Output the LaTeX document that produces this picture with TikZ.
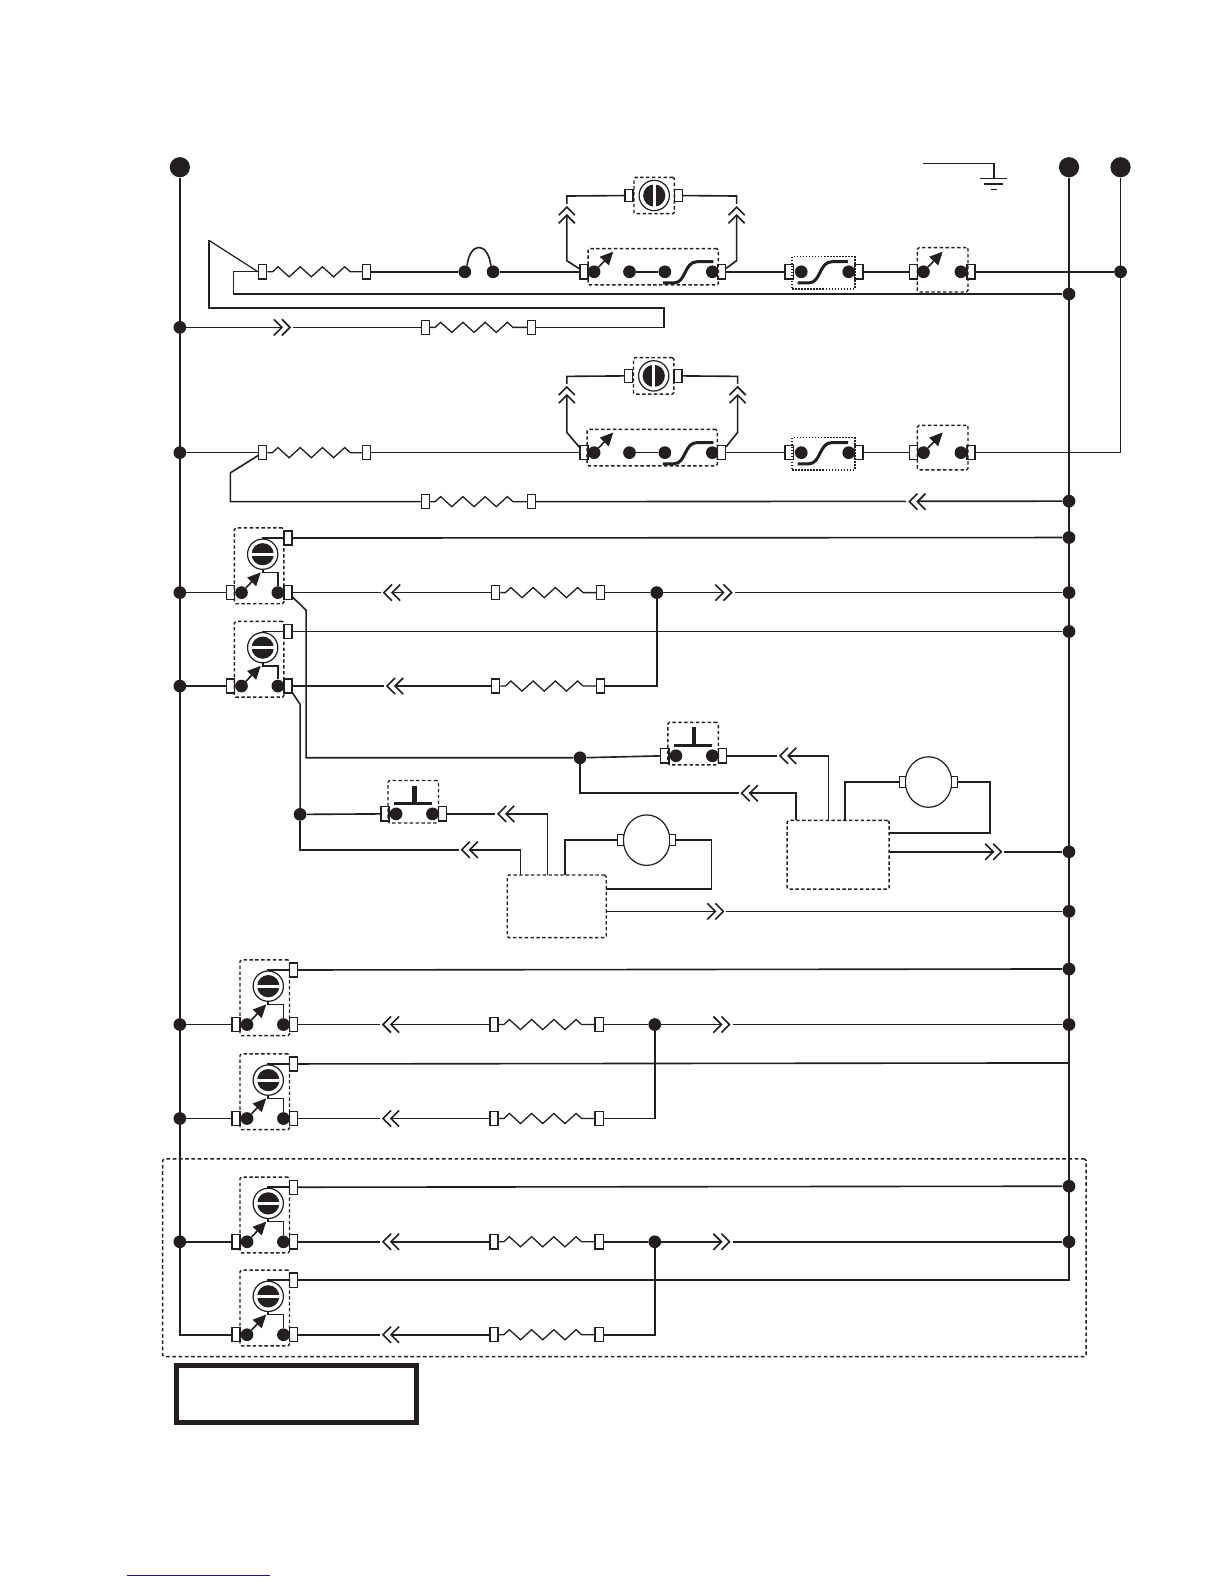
\documentclass[tikz,border=0pt]{standalone}
\usepackage{tikz}
\usetikzlibrary{arrows.meta,decorations.pathmorphing,fit,shapes.geometric}

\definecolor{ink}{HTML}{231F20}
\definecolor{rulenavy}{HTML}{1A1A8C}

\tikzset{
    wire/.style={draw=ink,line width=1.6pt},
    thinwire/.style={draw=ink,line width=1.2pt},
    coil/.style={draw=ink,line width=1.3pt,decorate,decoration={zigzag,segment length=22pt,amplitude=5pt,pre length=5pt,post length=5pt}},
    dot/.style={circle,fill=ink,inner sep=0pt,minimum size=12.6pt},
    bigdot/.style={circle,fill=ink,inner sep=0pt,minimum size=20pt},
    term/.style={rectangle,draw=ink,fill=white,line width=1.3pt,inner sep=0pt,minimum width=8pt,minimum height=14pt},
    smallterm/.style={term,line width=1.1pt,minimum width=6pt,minimum height=10.5pt},
    knob/.style={circle,draw=ink,line width=1.2pt,inner sep=0pt,minimum size=30pt},
    motor/.style={ellipse,draw=ink,line width=1.2pt,inner sep=0pt,minimum width=46pt,minimum height=50pt},
    dbox/.style={rectangle,draw=ink,line width=1.4pt,dash pattern=on 3.4pt off 2.4pt,rounded corners=1.5pt,inner sep=0pt},
    ddot/.style={rectangle,draw=ink,line width=1.4pt,dash pattern=on 1.5pt off 1.5pt,inner sep=0pt},
    pics/chevr/.style={code={
        \fill[white] (-3.5,-2) rectangle (7,2);
        \draw[wire] (-12,-8) -- (-4,0) -- (-12,8);
        \draw[wire] (-4,-8) -- (4,0) -- (-4,8);
    }},
    pics/knobface/.style={code={
        \fill[ink] (0,0) circle (11);
        \fill[white] (-12,-1.5) rectangle (12,1.5);
    }},
    pics/bimetal/.style={code={
        \draw[draw=ink,line width=3pt] (-25,11) -- (-14,11) .. controls (-2,11) and (-4,-10) .. (9,-10) -- (25,-10);
    }},
}

% arrow of an open contact
\newcommand{\tripsw}[1]{
    \coordinate (#1tip) at ([shift={(19,-20)}]#1);
    \draw[wire,-{Triangle[length=13pt,width=12pt]}] (#1) -- (#1tip);
}
% switch with pilot knob: name, x of left terminal, y of row
\newcommand{\knobunit}[3]{
    \node[dot] (#1dl) at (#2+11,#3) {};
    \node[dot] (#1dr) at (#2+47,#3) {};
    \node[term] (#1tl) at (#2,#3) {};
    \node[term] (#1tr) at (#2+57,#3) {};
    \node[term] (#1tt) at (#2+57,#3-54) {};
    \node[knob] (#1k) at (#2+32,#3-38) {};
    \node[dbox,fit={(#2+4,#3-64) (#2+53,#3+11)}] (#1b) {};
    \coordinate (#1j) at (#2+32,#3-20);
    \pic at (#1k) {knobface};
    \draw[wire] (#1tt) -| (#1k.north);
    \draw[wire] (#1k.south) -- (#1j) -| (#1dr.north);
    \tripsw{#1dl}
}
% fan in its box: name, x, y of centre
\newcommand{\fanunit}[3]{
    \node[knob] (#1k) at (#2,#3) {};
    \node[term,minimum height=12.5pt] (#1tl) at (#2-25,#3) {};
    \node[term,minimum height=12.5pt] (#1tr) at (#2+24,#3) {};
    \node[dbox,fit={(#2-20,#3-18) (#2+20,#3+18)}] (#1b) {};
    \pic[rotate=90] at (#1k) {knobface};
}
% push button: name, x of left terminal, y of row
\newcommand{\pushunit}[3]{
    \node[dot] (#1dl) at (#2+11,#3) {};
    \node[dot] (#1dr) at (#2+47,#3) {};
    \node[term] (#1tl) at (#2,#3) {};
    \node[term] (#1tr) at (#2+57,#3) {};
    \node[dbox,fit={(#2+3,#3-33) (#2+53,#3+9)}] (#1b) {};
    \coordinate (#1ba) at (#2+9,#3-10);
    \coordinate (#1bb) at (#2+47,#3-10);
    \coordinate (#1sa) at (#2+29,#3-28);
    \coordinate (#1sb) at (#2+29,#3-10);
    \draw[draw=ink,line width=2.8pt] (#1ba) -- (#1bb);
    \draw[draw=ink,line width=4.6pt] (#1sa) -- (#1sb);
}
% motor: name, x, y of centre
\newcommand{\motorunit}[3]{
    \node[motor] (#1) at (#2,#3) {};
    \node[smallterm] (#1tl) at (#2-25.5,#3) {};
    \node[smallterm] (#1tr) at (#2+25.5,#3) {};
}
% limit, fuse and thermostat of one element row
\newcommand{\limitset}[4]{
    \node[dot] (#1da) at (588,#2) {};
    \node[dot] (#1db) at (623,#2) {};
    \node[dot] (#1dc) at (658,#2) {};
    \node[dot] (#1dd) at (705,#2) {};
    \node[term] (#1ta) at (578,#2) {};
    \node[term] (#1tb) at (714,#2) {};
    \node[dbox,fit={(#3,#2-23) (#3+129,#2+13)}] (#1ba) {};
    \node[dot] (#1de) at (793,#2) {};
    \node[dot] (#1df) at (840,#2) {};
    \node[term] (#1tc) at (781,#2) {};
    \node[term] (#1td) at (850,#2) {};
    \node[ddot,fit={(784,#2-15) (846,#2+17)}] (#1bb) {};
    \node[dot] (#1dg) at (914,#2) {};
    \node[dot] (#1dh) at (951,#2) {};
    \node[term] (#1te) at (904,#2) {};
    \node[term] (#1tf) at (961,#2) {};
    \node[dbox,fit={(908,#4) (958,#4+44)}] (#1bc) {};
    \pic at (681,#2) {bimetal};
    \pic at (814.5,#2) {bimetal};
    \tripsw{#1da}
    \tripsw{#1dg}
    \draw[wire] (#1db) -- (#1dc);
    \draw[wire] (#1tb) -- (#1tc);
    \draw[wire] (#1td) -- (#1te);
}

\begin{document}
\begin{tikzpicture}[x=1pt,y=-1pt]
    \useasboundingbox (0,0) rectangle (1211.4,1567.7);

    % supply rails
    \node[bigdot] (railL) at (178,165.5) {};
    \node[bigdot] (railN) at (1058,165.5) {};
    \node[bigdot] (railP) at (1109,165.5) {};
    \begin{scope}[every node/.style={dot}]
        \node (jL1) at (178,324) {};
        \node (jL2) at (178,448) {};
        \node (jL3) at (178,586.5) {};
        \node (jL4) at (178,679) {};
        \node (jL5) at (178,1014) {};
        \node (jL6) at (178,1107) {};
        \node (jL7) at (178,1229) {};
        \node (jN1) at (1058,291) {};
        \node (jN2) at (1058,496) {};
        \node (jN3) at (1058,532) {};
        \node (jN4) at (1058,586.5) {};
        \node (jN5) at (1058,625) {};
        \node (jN6) at (1058,843) {};
        \node (jN7) at (1058,902) {};
        \node (jN8) at (1058,959) {};
        \node (jN9) at (1058,1014) {};
        \node (jN11) at (1058,1174) {};
        \node (jN12) at (1058,1229) {};
        \node (jP1) at (1109,269) {};
        \node (jA) at (650,586.5) {};
        \node (jE) at (648,1014) {};
        \node (jG) at (648,1229) {};
        \node (jC) at (574,750) {};
        \node (jD) at (297,806) {};
        \node (fA) at (460,269) {};
        \node (fB) at (488,269) {};
    \end{scope}
    \coordinate (cL8) at (178,1321);
    \coordinate (cN10) at (1058,1052);
    \coordinate (cN13) at (1058,1267);
    \coordinate (cP2) at (1109,448);

    % element rows
    \limitset{up}{269}{582}{245}
    \limitset{lo}{448}{581}{421}
    \fanunit{fanU}{647.5}{193.5}
    \fanunit{fanL}{647}{372}

    % heaters
    \begin{scope}[every node/.style={term}]
        \node (hA1) at (260,269) {};
        \node (hA2) at (363,269) {};
        \node (hB1) at (421,324) {};
        \node (hB2) at (526,324) {};
        \node (hC1) at (260,448) {};
        \node (hC2) at (363,448) {};
        \node (hD1) at (421,496.5) {};
        \node (hD2) at (526,496.5) {};
        \node (hE1) at (490.5,586.5) {};
        \node (hE2) at (594.5,586.5) {};
        \node (hF1) at (490.5,679) {};
        \node (hF2) at (594.5,679) {};
        \node (hG1) at (489,1014) {};
        \node (hG2) at (593,1014) {};
        \node (hH1) at (489,1107) {};
        \node (hH2) at (593,1107) {};
        \node (hI1) at (489,1229) {};
        \node (hI2) at (593,1229) {};
        \node (hJ1) at (489,1321) {};
        \node (hJ2) at (593,1321) {};
    \end{scope}

    % switches
    \knobunit{uA}{228}{586.5}
    \knobunit{uB}{228}{679}
    \knobunit{uE}{233.5}{1014}
    \knobunit{uF}{233.5}{1107}
    \knobunit{uG}{233.5}{1229}
    \knobunit{uH}{233.5}{1321}
    \pushunit{pC}{658}{748}
    \pushunit{pD}{381}{805.5}

    % blowers and their boards
    \motorunit{mC}{919}{774}
    \motorunit{mD}{640}{831.5}
    \node[dbox,fit={(779,812) (880,880)}] (boardC) {};
    \node[dbox,fit={(502,866) (600,928)}] (boardD) {};
    \coordinate (cCa) at (788,812);
    \coordinate (cCb) at (820,812);
    \coordinate (cCc) at (836,812);
    \coordinate (cCd) at (880,824.5);
    \coordinate (cCe) at (880,843);
    \coordinate (cCf) at (980,824.5);
    \coordinate (cDa) at (515,866);
    \coordinate (cDb) at (542,866);
    \coordinate (cDc) at (559,866);
    \coordinate (cDd) at (600,880);
    \coordinate (cDe) at (600,902);
    \coordinate (cDf) at (704,880);

    % ground
    \coordinate (gndA) at (913.5,162);
    \coordinate (gndB) at (983.5,177);
    \draw[wire] (gndA) -| (gndB);
    \draw[thinwire] ([xshift=-13.5pt]gndB) -- ([xshift=13.5pt]gndB);
    \draw[wire] ([shift={(-9.5,5)}]gndB) -- ([shift={(9.5,5)}]gndB);
    \draw[wire] ([shift={(-3,10.5)}]gndB) -- ([shift={(3,10.5)}]gndB);

    % free corners
    \coordinate (wa) at (207,238);
    \coordinate (wb) at (207,305);
    \coordinate (wc) at (657,305);
    \coordinate (wd) at (657,324);
    \coordinate (we) at (231,269);
    \coordinate (wf) at (231,291);
    \coordinate (xa) at (561,258);
    \coordinate (xb) at (561,194);
    \coordinate (xc) at (729,258);
    \coordinate (xd) at (729,194);
    \coordinate (ya) at (561,428);
    \coordinate (yb) at (561,372.5);
    \coordinate (yc) at (730,428);
    \coordinate (yd) at (730,372.5);
    \coordinate (za) at (228,468);
    \coordinate (zb) at (228,496.5);
    \coordinate (qa) at (303,604);
    \coordinate (qb) at (303,750);
    \coordinate (qc) at (297,697);
    \coordinate (qd) at (297,841);

    % chevron connectors
    \coordinate (ca) at (283,324);
    \coordinate (cb) at (561,209);
    \coordinate (cc) at (729,209);
    \coordinate (cd) at (561,387);
    \coordinate (ce) at (730,387);
    \coordinate (cf) at (904,496.5);
    \coordinate (cg) at (384,586.5);
    \coordinate (ch) at (720,586.5);
    \coordinate (ci) at (387,679);
    \coordinate (cj) at (776,748);
    \coordinate (ck) at (738,785);
    \coordinate (cl) at (987,843);
    \coordinate (cm) at (497,805.5);
    \coordinate (cn) at (461,841);
    \coordinate (co) at (712,902);
    \coordinate (cp) at (383,1014);
    \coordinate (cq) at (718,1014);
    \coordinate (cr) at (383,1107);
    \coordinate (cs) at (383,1229);
    \coordinate (ct) at (718,1229);
    \coordinate (cu) at (383,1321);

    % connectors
    \draw[wire] (railL) -- (cL8) -- (uHtl);
    \draw[wire] (railN) -- (cN13) -- (uHtt);
    \draw[thinwire] (railP) -- (cP2) -- (lotf);
    \draw[wire] (uptf) -- (jP1);
    \draw[thinwire] (hA1) -- (we) -- (wf) -- (jN1);
    \draw[thinwire] (wa) -- (hA1.west);
    \draw[wire] (wa) -- (wb) -- (wc) -- (wd) -- (hB2);
    \draw[wire] (jL1) -- (hB1);
    \draw[coil] (hA1) -- (hA2);
    \draw[coil] (hB1) -- (hB2);
    \draw[wire] (hA2) -- (fA);
    \draw[wire] (fB) -- (upta);
    \draw[wire] (fA.70) .. controls +(3,-24) and +(-3,-24) .. (fB.110);
    \draw[wire] (upta) -- (xa) -- (xb) -- (fanUtl);
    \draw[wire] (uptb) -- (xc) -- (xd) -- (fanUtr);

    \draw[wire] (jL2) -- (hC1);
    \draw[coil] (hC1) -- (hC2);
    \draw[wire] (hC2) -- (lota);
    \draw[wire] (lota) -- (ya) -- (yb) -- (fanLtl);
    \draw[wire] (lotb) -- (yc) -- (yd) -- (fanLtr);
    \draw[wire] (hC1) -- (za) -- (zb) -- (hD1);
    \draw[coil] (hD1) -- (hD2);
    \draw[wire] (hD2) -- (jN2);

    \draw[thinwire] (jL3) -- (uAtl);
    \draw[wire] (uAtt) -- (jN3);
    \draw[wire] (uAtr) -- (hE1);
    \draw[coil] (hE1) -- (hE2);
    \draw[wire] (hE2) -- (jA);
    \draw[wire] (jA) -- (jN4);
    \draw[wire] (jL4) -- (uBtl);
    \draw[wire] (uBtt) -- (jN5);
    \draw[wire] (uBtr) -- (hF1);
    \draw[coil] (hF1) -- (hF2);
    \draw[wire] (hF2) -| (jA);

    \draw[wire] (uAtr) -- (qa) -- (qb) -- (jC);
    \draw[wire] (jC) -- (pCtl);
    \draw[wire] (jC) |- (ck) -| (cCa);
    \draw[wire] (pCtr) -- (cj) -| (cCb);
    \draw[wire] (mCtl) -| (cCc);
    \draw[wire] (cCd) -- (cCf) |- (mCtr);
    \draw[wire] (cCe) -- (jN6);

    \draw[wire] (uBtr) -- (qc) -- (jD);
    \draw[wire] (jD) -- (qd) -- (cn) -| (cDa);
    \draw[wire] (jD) -- (pDtl);
    \draw[wire] (pDtr) -- (cm) -| (cDb);
    \draw[wire] (mDtl) -| (cDc);
    \draw[wire] (cDd) -- (cDf) |- (mDtr);
    \draw[wire] (cDe) -- (jN7);

    \draw[wire] (jL5) -- (uEtl);
    \draw[wire] (uEtt) -- (jN8);
    \draw[wire] (uEtr) -- (hG1);
    \draw[coil] (hG1) -- (hG2);
    \draw[wire] (hG2) -- (jE);
    \draw[wire] (jE) -- (jN9);
    \draw[wire] (jL6) -- (uFtl);
    \draw[wire] (uFtt) -- (cN10);
    \draw[wire] (uFtr) -- (hH1);
    \draw[coil] (hH1) -- (hH2);
    \draw[wire] (hH2) -| (jE);

    \draw[wire] (jL7) -- (uGtl);
    \draw[wire] (uGtt) -- (jN11);
    \draw[wire] (uGtr) -- (hI1);
    \draw[coil] (hI1) -- (hI2);
    \draw[wire] (hI2) -- (jG);
    \draw[wire] (jG) -- (jN12);
    \draw[wire] (uHtr) -- (hJ1);
    \draw[coil] (hJ1) -- (hJ2);
    \draw[wire] (hJ2) -| (jG);

    % chevrons go over the wires
    \foreach \c/\a in {ca/0,cb/90,cc/90,cd/90,ce/90,cf/180,cg/180,ch/0,ci/180,cj/180,ck/180,cl/0,cm/180,cn/180,co/0,cp/180,cq/0,cr/180,cs/180,ct/0,cu/180}
        \pic[rotate=\a] at (\c) {chevr};

    % outer box, title frame, rule at the foot
    \node[dbox,dash pattern=on 3.6pt off 2.6pt,fit={(161,1147) (1075,1342.7)}] (optbox) {};
    \node[rectangle,draw=ink,line width=4.6pt,inner sep=0pt,fit={(174.5,1351.5) (412.5,1408)}] (frame) {};
    \coordinate (ruleA) at (126,1559);
    \coordinate (ruleB) at (267,1559);
    \draw[draw=rulenavy,line width=1.2pt] (ruleA) -- (ruleB);
\end{tikzpicture}
\end{document}
